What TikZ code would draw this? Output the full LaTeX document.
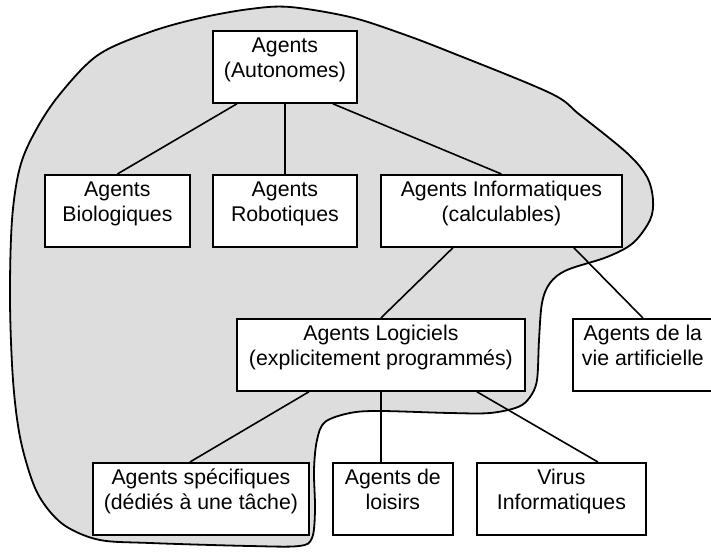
\documentclass[tikz,border=0pt]{standalone}
\usepackage{fontspec}
\setmainfont{Liberation Sans}
\definecolor{blobfill}{RGB}{221,221,221}
% box contents: fixed height, text hung from the top
\newcommand\cell[2]{\parbox[c][72pt][t]{#1}{\centering\rule{0pt}{22pt}#2}}
\begin{document}
\begin{tikzpicture}[x=1pt, y=-1pt, line width=1.8pt,
  agentbox/.style={draw, fill=white, inner sep=0pt, anchor=north west,
    font=\fontsize{21.3pt}{24.5pt}\selectfont},
  link/.style={draw, line width=1.6pt}]
\useasboundingbox (0,0) rectangle (711,551);

% region enclosing the computable agents
\draw[fill=blobfill] plot[smooth cycle, tension=0.55] coordinates {
  (290,7) (350,17) (400,33) (450,52) (550,93) (580,115) (627,153)
  (647,177) (653,200) (650,220) (633,243) (607,257) (567,270)
  (550,283) (542,303) (539,340) (537,380) (530,397) (518,407)
  (490,413) (450,413) (380,411) (350,413) (325,422) (317,440)
  (314,470) (315,510) (312,538) (299,546) (250,546) (150,543)
  (100,540) (67,527) (47,508) (33,483) (20,437) (13,380) (10,300)
  (12,220) (20,167) (36,130) (60,94) (98,55) (150,32) (200,18)
  (250,9)};

\node[agentbox] (top)   at (212,30)  {\cell{144pt}{Agents\\(Autonomes)}};
\node[agentbox] (bio)   at (44,174)  {\cell{145pt}{Agents\\Biologiques}};
\node[agentbox] (rob)   at (212,174) {\cell{144pt}{Agents\\Robotiques}};
\node[agentbox] (info)  at (380,174) {\cell{241pt}{Agents Informatiques\\(calculables)}};
\node[agentbox] (logi)  at (236,318) {\cell{288pt}{Agents Logiciels\\(explicitement programmés)}};
\node[agentbox] (vie)   at (572,318) {\cell{140pt}{Agents de la\\vie artificielle}};
\node[agentbox] (spec)  at (92,462)  {\cell{216pt}{Agents spécifiques\\(dédiés à une tâche)}};
\node[agentbox] (lois)  at (332,462) {\cell{120pt}{Agents de\\loisirs}};
\node[agentbox] (virus) at (476,462) {\cell{169pt}{Virus\\Informatiques}};

\path[link] ([xshift=-48pt]top.south) -- (bio.north);
\path[link] (top.south) -- (rob.north);
\path[link] ([xshift=48pt]top.south) -- (info.north);
\path[link] ([xshift=-48.5pt]info.south) -- (logi.north);
\path[link] ([xshift=72.5pt]info.south) -- (vie.north);
\path[link] ([xshift=-72pt]logi.south) -- ([xshift=-11pt]spec.north);
\path[link] (logi.south) -- (logi.south |- lois.north);
\path[link] ([xshift=96pt]logi.south) -- ([xshift=36.5pt]virus.north);
\end{tikzpicture}
\end{document}
